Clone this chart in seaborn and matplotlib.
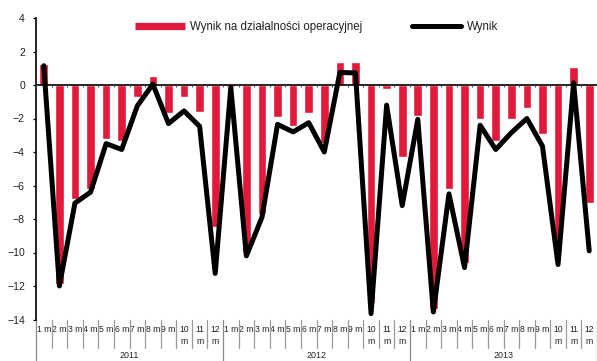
import matplotlib
matplotlib.use("Agg")
import matplotlib.pyplot as plt
from matplotlib.lines import Line2D
import matplotlib.transforms as mtransforms
import numpy as np
import pandas as pd
import seaborn as sns

# Monthly results, 2011-2013
years = ["2011", "2012", "2013"]
month_labels = ["1 m", "2 m", "3 m", "4 m", "5 m", "6 m", "7 m", "8 m", "9 m",
                "10\nm", "11\nm", "12\nm"]

operating_result = [1.25, -11.9, -6.8, -6.2, -3.2, -3.35, -0.7, 0.55, -1.65, -0.7, -1.6, -8.5,
                    -0.1, -10.0, -7.7, -1.9, -2.45, -1.67, -3.45, 1.37, 1.37, -13.0, -0.22, -4.3,
                    -1.87, -13.4, -6.2, -10.6, -2.0, -3.35, -2.0, -1.4, -2.9, -9.87, 1.1, -7.05]

net_result = [1.15, -12.0, -7.05, -6.4, -3.5, -3.85, -1.25, 0.05, -2.3, -1.55, -2.47, -11.25,
              -0.15, -10.2, -7.9, -2.35, -2.8, -2.25, -4.0, 0.75, 0.72, -13.65, -1.2, -7.2,
              -2.05, -13.55, -6.5, -10.9, -2.4, -3.85, -2.85, -2.0, -3.65, -10.72, 0.13, -9.9]

bar_label = "Wynik na działalności operacyjnej"
line_label = "Wynik"
RED = "#E2193A"

n = len(operating_result)
df = pd.DataFrame({
    "pos": np.arange(n),
    "operacyjny": operating_result,
    "wynik": net_result,
})

sns.set_style("white")
plt.rcParams["font.family"] = ["Liberation Sans", "DejaVu Sans"]

fig = plt.figure(figsize=(5.97, 3.61), dpi=100)
W, H = 597, 361
left, right, top, bottom = 36, 597, 18, 319.5
ax = fig.add_axes([left / W, (H - bottom) / H, (right - left) / W, (bottom - top) / H])

sns.barplot(data=df, x="pos", y="operacyjny", color=RED, saturation=1,
            width=0.56, ax=ax, zorder=2)
sns.lineplot(data=df, x="pos", y="wynik", color="black", linewidth=3.6,
             ax=ax, zorder=4, solid_capstyle="round", solid_joinstyle="round")

ax.set_xlim(-0.5, n - 0.5)
ax.set_ylim(-14, 4)
ax.set_yticks(range(-14, 5, 2))
ax.set_xlabel("")
ax.set_ylabel("")

for s in ["top", "right", "bottom"]:
    ax.spines[s].set_visible(False)
ax.spines["left"].set_color("black")
ax.spines["left"].set_linewidth(1.2)

ax.tick_params(axis="y", direction="out", length=2.5, width=0.9, color="black",
               pad=5.5, labelsize=7.6, labelcolor="#222222", left=True)

# zero line with small boundary ticks
ax.axhline(0, color="black", lw=1.2, zorder=3)
bounds = np.arange(n + 1) - 0.5
ax.vlines(bounds, 0, -0.14, colors="#555555", lw=0.8, zorder=3)

# month tick labels
ax.set_xticks(np.arange(n))
ax.set_xticklabels(month_labels * len(years), fontsize=6.2, color="#222222",
                   linespacing=1.45)
ax.tick_params(axis="x", length=0, pad=4.2, bottom=False)

# category separators below the plot area
trans = mtransforms.blended_transform_factory(ax.transData, ax.transAxes)
for k, b in enumerate(bounds):
    if k % 12 == 0:
        ax.plot([b, b], [0, -0.2], transform=trans, color="#8a8a8a", lw=0.9,
                clip_on=False, zorder=1)
    else:
        ax.plot([b, b], [0, -0.096], transform=trans, color="#9a9a9a", lw=0.9,
                clip_on=False, zorder=1)

# year labels
for i, y in enumerate(years):
    ax.text(i * 12 + 5.5, -0.104, y, transform=trans, ha="center", va="top",
            fontsize=6.4, color="#222222")

handles = [Line2D([0], [0], color=RED, lw=5.2, solid_capstyle="butt"),
           Line2D([0], [0], color="black", lw=3.6, solid_capstyle="round")]
ax.legend(handles, [bar_label, line_label], loc="center", bbox_to_anchor=(0.5, 0.97),
          ncol=2, frameon=False, fontsize=8.3, handlelength=4.3, handletextpad=0.45,
          columnspacing=4.3, borderpad=0, borderaxespad=0)
for t in ax.get_legend().get_texts():
    t.set_color("#222222")

fig.savefig("out.png", dpi=100, facecolor="white")
